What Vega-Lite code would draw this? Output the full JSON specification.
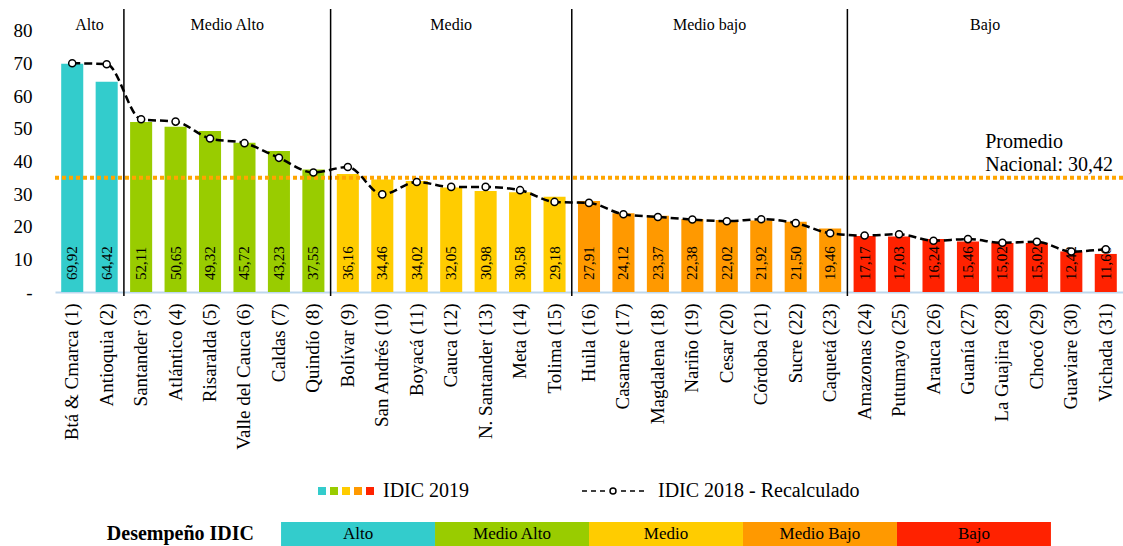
{
  "$schema": "https://vega.github.io/schema/vega-lite/v6.json",
  "padding": {"top": 8, "left": 13, "right": 0, "bottom": 0},
  "background": "white",
  "config": {
    "font": "Liberation Serif",
    "view": {"stroke": null},
    "locale": {"number": {"decimal": ",", "thousands": ".", "grouping": [3], "currency": ["$", ""]}},
    "axisY": {"labelOverlap": false, "labelFontSize": 19, "labelColor": "black", "labelPadding": 23, "ticks": false, "domain": false, "grid": false},
    "legend": {"layout": {"bottom": {"anchor": "middle", "direction": "horizontal", "margin": 110}}}
  },
  "datasets": {
    "deptos": [
      {"depto": "Btá & Cmarca (1)", "grupo": "Alto", "idic2019": 69.92, "idic2018": 70.1},
      {"depto": "Antioquia (2)", "grupo": "Alto", "idic2019": 64.42, "idic2018": 69.8},
      {"depto": "Santander (3)", "grupo": "Medio Alto", "idic2019": 52.11, "idic2018": 52.9},
      {"depto": "Atlántico (4)", "grupo": "Medio Alto", "idic2019": 50.65, "idic2018": 52.2},
      {"depto": "Risaralda (5)", "grupo": "Medio Alto", "idic2019": 49.32, "idic2018": 47.0},
      {"depto": "Valle del Cauca (6)", "grupo": "Medio Alto", "idic2019": 45.72, "idic2018": 45.6},
      {"depto": "Caldas (7)", "grupo": "Medio Alto", "idic2019": 43.23, "idic2018": 41.1},
      {"depto": "Quindío (8)", "grupo": "Medio Alto", "idic2019": 37.55, "idic2018": 36.6},
      {"depto": "Bolívar (9)", "grupo": "Medio", "idic2019": 36.16, "idic2018": 38.3},
      {"depto": "San Andrés (10)", "grupo": "Medio", "idic2019": 34.46, "idic2018": 29.9},
      {"depto": "Boyacá (11)", "grupo": "Medio", "idic2019": 34.02, "idic2018": 33.7},
      {"depto": "Cauca (12)", "grupo": "Medio", "idic2019": 32.05, "idic2018": 32.2},
      {"depto": "N. Santander (13)", "grupo": "Medio", "idic2019": 30.98, "idic2018": 32.2},
      {"depto": "Meta (14)", "grupo": "Medio", "idic2019": 30.58, "idic2018": 31.2},
      {"depto": "Tolima (15)", "grupo": "Medio", "idic2019": 29.18, "idic2018": 27.6},
      {"depto": "Huila (16)", "grupo": "Medio bajo", "idic2019": 27.91, "idic2018": 27.3},
      {"depto": "Casanare (17)", "grupo": "Medio bajo", "idic2019": 24.12, "idic2018": 23.8},
      {"depto": "Magdalena (18)", "grupo": "Medio bajo", "idic2019": 23.37, "idic2018": 23.0},
      {"depto": "Nariño (19)", "grupo": "Medio bajo", "idic2019": 22.38, "idic2018": 22.2},
      {"depto": "Cesar (20)", "grupo": "Medio bajo", "idic2019": 22.02, "idic2018": 21.7},
      {"depto": "Córdoba (21)", "grupo": "Medio bajo", "idic2019": 21.92, "idic2018": 22.3},
      {"depto": "Sucre (22)", "grupo": "Medio bajo", "idic2019": 21.50, "idic2018": 21.1},
      {"depto": "Caquetá (23)", "grupo": "Medio bajo", "idic2019": 19.46, "idic2018": 18.0},
      {"depto": "Amazonas (24)", "grupo": "Bajo", "idic2019": 17.17, "idic2018": 17.3},
      {"depto": "Putumayo (25)", "grupo": "Bajo", "idic2019": 17.03, "idic2018": 17.7},
      {"depto": "Arauca (26)", "grupo": "Bajo", "idic2019": 16.24, "idic2018": 15.7},
      {"depto": "Guanía (27)", "grupo": "Bajo", "idic2019": 15.46, "idic2018": 16.2},
      {"depto": "La Guajira (28)", "grupo": "Bajo", "idic2019": 15.02, "idic2018": 15.1},
      {"depto": "Chocó (29)", "grupo": "Bajo", "idic2019": 15.02, "idic2018": 15.4},
      {"depto": "Guaviare (30)", "grupo": "Bajo", "idic2019": 12.42, "idic2018": 12.4},
      {"depto": "Vichada (31)", "grupo": "Bajo", "idic2019": 11.66, "idic2018": 13.1}
    ],
    "separadores": [
      {"depto": "Santander (3)"},
      {"depto": "Bolívar (9)"},
      {"depto": "Huila (16)"},
      {"depto": "Amazonas (24)"}
    ],
    "grupos": [
      {"depto": "Antioquia (2)", "grupo": "Alto"},
      {"depto": "Valle del Cauca (6)", "grupo": "Medio Alto"},
      {"depto": "Cauca (12)", "grupo": "Medio"},
      {"depto": "Cesar (20)", "grupo": "Medio bajo"},
      {"depto": "La Guajira (28)", "grupo": "Bajo"}
    ],
    "promedio": [
      {"depto": "La Guajira (28)", "nivel": 35, "etiqueta": ["Promedio", "Nacional:  30,42"]}
    ],
    "franja": [
      {"grupo": "Alto", "etiqueta": "Alto"},
      {"grupo": "Medio Alto", "etiqueta": "Medio Alto"},
      {"grupo": "Medio", "etiqueta": "Medio"},
      {"grupo": "Medio bajo", "etiqueta": "Medio Bajo"},
      {"grupo": "Bajo", "etiqueta": "Bajo"}
    ],
    "titulo_franja": [
      {"etiqueta": "Desempeño IDIC"}
    ]
  },
  "vconcat": [
    {
      "width": 1068,
      "height": 283,
      "layer": [
        {
          "data": {"name": "deptos"},
          "mark": {"type": "bar", "width": {"band": 0.64}},
          "encoding": {
            "x": {
              "field": "depto", "type": "nominal", "sort": null, "title": null,
              "scale": {"domain": ["Btá & Cmarca (1)", "Antioquia (2)", "Santander (3)", "Atlántico (4)", "Risaralda (5)", "Valle del Cauca (6)", "Caldas (7)", "Quindío (8)", "Bolívar (9)", "San Andrés (10)", "Boyacá (11)", "Cauca (12)", "N. Santander (13)", "Meta (14)", "Tolima (15)", "Huila (16)", "Casanare (17)", "Magdalena (18)", "Nariño (19)", "Cesar (20)", "Córdoba (21)", "Sucre (22)", "Caquetá (23)", "Amazonas (24)", "Putumayo (25)", "Arauca (26)", "Guanía (27)", "La Guajira (28)", "Chocó (29)", "Guaviare (30)", "Vichada (31)"], "paddingInner": 0, "paddingOuter": 0},
              "axis": {"title": null, "labelAngle": 270, "labelFontSize": 19, "labelColor": "black", "labelPadding": 11, "ticks": false, "domainColor": "#BDD7EE", "domainWidth": 2, "labelLimit": 400, "labelOverlap": false}
            },
            "y": {
              "field": "idic2019", "type": "quantitative", "title": null,
              "scale": {"domain": [0, 86.7], "nice": false},
              "axis": {"title": null, "values": [0, 10, 20, 30, 40, 50, 60, 70, 80], "labelExpr": "datum.value == 0 ? '-' : datum.label", "labelOverlap": false}
            },
            "color": {
              "field": "grupo", "type": "nominal",
              "scale": {"domain": ["Alto", "Medio Alto", "Medio", "Medio bajo", "Bajo"], "range": ["#33CCCC", "#99CC00", "#FFCC00", "#FF9900", "#FF2200"]},
              "legend": {"orient": "bottom", "direction": "horizontal", "title": null, "symbolType": "square", "symbolSize": 64, "symbolOffset": -6, "symbolStrokeWidth": 0, "labelExpr": "datum.label == 'Bajo' ? '\u200b\u00a0\u00a0\u2009IDIC 2019' : ''", "labelFontSize": 20, "labelColor": "black", "labelOffset": -11, "columnPadding": 4, "offset": 31, "labelLimit": 300}
            }
          }
        },
        {
          "data": {"name": "deptos"},
          "mark": {"type": "text", "angle": 270, "align": "left", "baseline": "middle", "dx": 12, "fontSize": 15, "color": "black"},
          "encoding": {
            "x": {"field": "depto", "type": "nominal", "sort": null, "title": null},
            "y": {"datum": 0, "type": "quantitative", "title": null, "axis": {"title": null, "values": [0, 10, 20, 30, 40, 50, 60, 70, 80], "labelExpr": "datum.value == 0 ? '-' : datum.label", "labelOverlap": false}},
            "text": {"field": "idic2019", "type": "quantitative", "format": ".2f"}
          }
        },
        {
          "data": {"name": "promedio"},
          "mark": {"type": "rule", "color": "#FFA500", "strokeWidth": 4, "strokeDash": [4, 3]},
          "encoding": {
            "y": {"field": "nivel", "type": "quantitative", "title": null, "axis": {"title": null, "values": [0, 10, 20, 30, 40, 50, 60, 70, 80], "labelExpr": "datum.value == 0 ? '-' : datum.label", "labelOverlap": false}}
          }
        },
        {
          "data": {"name": "separadores"},
          "mark": {"type": "rule", "color": "black", "strokeWidth": 1.5},
          "encoding": {
            "x": {"field": "depto", "type": "nominal", "sort": null, "bandPosition": 0, "title": null},
            "y": {"datum": 86.7, "type": "quantitative", "title": null, "axis": {"title": null, "values": [0, 10, 20, 30, 40, 50, 60, 70, 80], "labelExpr": "datum.value == 0 ? '-' : datum.label", "labelOverlap": false}},
            "y2": {"datum": -1.2}
          }
        },
        {
          "data": {"name": "grupos"},
          "transform": [{"filter": "datum.grupo != 'Medio'"}],
          "mark": {"type": "text", "fontSize": 16, "color": "black", "baseline": "middle", "align": "center"},
          "encoding": {
            "x": {"field": "depto", "type": "nominal", "sort": null, "bandPosition": 0, "title": null},
            "y": {"datum": 81.8, "type": "quantitative", "title": null, "axis": {"title": null, "values": [0, 10, 20, 30, 40, 50, 60, 70, 80], "labelExpr": "datum.value == 0 ? '-' : datum.label", "labelOverlap": false}},
            "text": {"field": "grupo"}
          }
        },
        {
          "data": {"name": "grupos"},
          "transform": [{"filter": "datum.grupo == 'Medio'"}],
          "mark": {"type": "text", "fontSize": 16, "color": "black", "baseline": "middle", "align": "center"},
          "encoding": {
            "x": {"field": "depto", "type": "nominal", "sort": null, "bandPosition": 0.5, "title": null},
            "y": {"datum": 81.8, "type": "quantitative", "title": null, "axis": {"title": null, "values": [0, 10, 20, 30, 40, 50, 60, 70, 80], "labelExpr": "datum.value == 0 ? '-' : datum.label", "labelOverlap": false}},
            "text": {"field": "grupo"}
          }
        },
        {
          "data": {"name": "deptos"},
          "mark": {"type": "line", "color": "black", "strokeWidth": 2.5, "strokeDash": [8, 4], "interpolate": "monotone"},
          "encoding": {
            "x": {"field": "depto", "type": "nominal", "sort": null, "title": null},
            "y": {"field": "idic2018", "type": "quantitative", "title": null, "axis": {"title": null, "values": [0, 10, 20, 30, 40, 50, 60, 70, 80], "labelExpr": "datum.value == 0 ? '-' : datum.label", "labelOverlap": false}}
          }
        },
        {
          "data": {"name": "deptos"},
          "mark": {"type": "point", "filled": true, "fill": "white", "size": 50, "strokeWidth": 1.5, "opacity": 1},
          "encoding": {
            "x": {"field": "depto", "type": "nominal", "sort": null, "title": null},
            "y": {"field": "idic2018", "type": "quantitative", "title": null, "axis": {"title": null, "values": [0, 10, 20, 30, 40, 50, 60, 70, 80], "labelExpr": "datum.value == 0 ? '-' : datum.label", "labelOverlap": false}},
            "stroke": {
              "datum": "IDIC 2018 - Recalculado", "type": "nominal",
              "scale": {"range": ["black"]},
              "legend": {"orient": "bottom", "direction": "horizontal", "title": null, "symbolType": "M-3.65,0H-3.06M-2.59,0H-2M-1.53,0H-0.94M0.94,0H1.53M2,0H2.59M3.06,0H3.65M0.35,0A0.35,0.35 0 1,1 -0.35,0A0.35,0.35 0 1,1 0.35,0Z", "symbolSize": 289, "symbolStrokeWidth": 1.5, "symbolFillColor": "white", "symbolStrokeColor": "black", "symbolOffset": 23, "labelOffset": 35, "labelFontSize": 20, "labelColor": "black", "offset": 31, "labelLimit": 400}
            }
          }
        },
        {
          "data": {"name": "promedio"},
          "mark": {"type": "text", "align": "left", "baseline": "alphabetic", "fontSize": 20, "lineHeight": 23, "color": "black"},
          "encoding": {
            "x": {"field": "depto", "type": "nominal", "sort": null, "bandPosition": 0, "title": null},
            "y": {"datum": 44.1, "type": "quantitative", "title": null, "axis": {"title": null, "values": [0, 10, 20, 30, 40, 50, 60, 70, 80], "labelExpr": "datum.value == 0 ? '-' : datum.label", "labelOverlap": false}},
            "text": {"field": "etiqueta"}
          }
        }
      ]
    },
    {
      "width": 1068,
      "height": 24,
      "layer": [
        {
          "data": {"name": "franja"},
          "mark": {"type": "rect"},
          "encoding": {
            "x": {"field": "etiqueta", "type": "nominal", "sort": null, "title": null, "scale": {"domain": ["Desempeño IDIC", "Alto", "Medio Alto", "Medio", "Medio Bajo", "Bajo"], "paddingInner": 0, "paddingOuter": 0.468}, "axis": null},
            "color": {
              "field": "grupo", "type": "nominal",
              "scale": {"domain": ["Alto", "Medio Alto", "Medio", "Medio bajo", "Bajo"], "range": ["#33CCCC", "#99CC00", "#FFCC00", "#FF9900", "#FF2200"]},
              "legend": null
            }
          }
        },
        {
          "data": {"name": "franja"},
          "mark": {"type": "text", "fontSize": 17, "color": "black", "baseline": "middle"},
          "encoding": {
            "x": {"field": "etiqueta", "type": "nominal", "sort": null, "title": null, "axis": null},
            "text": {"field": "etiqueta"}
          }
        },
        {
          "data": {"name": "titulo_franja"},
          "mark": {"type": "text", "fontSize": 20, "fontWeight": "bold", "color": "black", "baseline": "middle", "align": "right", "dx": -27},
          "encoding": {
            "x": {"field": "etiqueta", "type": "nominal", "sort": null, "title": null, "bandPosition": 1, "axis": null},
            "text": {"field": "etiqueta"}
          }
        }
      ]
    }
  ],
  "spacing": 21,
  "resolve": {"scale": {"color": "independent", "stroke": "independent"}, "legend": {"color": "independent", "stroke": "independent"}}
}
